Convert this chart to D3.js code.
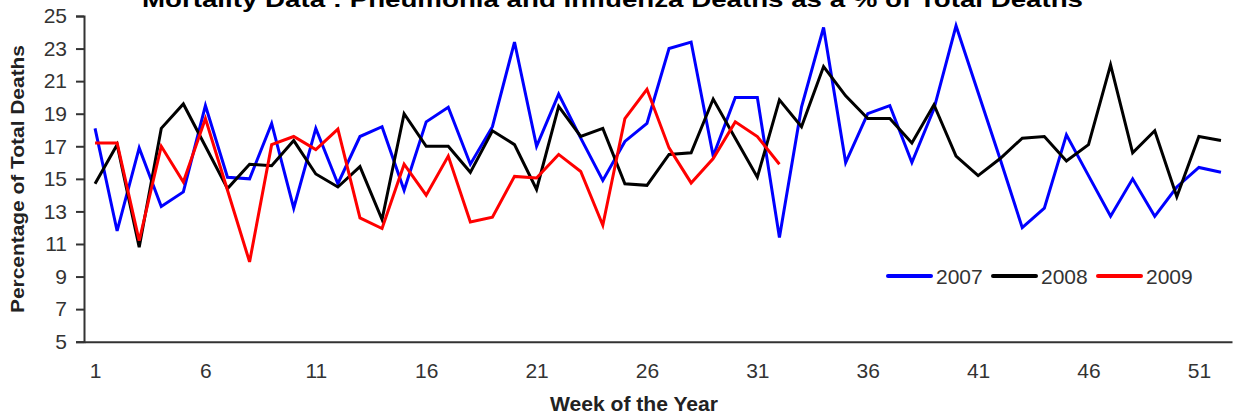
<!DOCTYPE html>
<html>
<head>
<meta charset="utf-8">
<script src="https://cdn.jsdelivr.net/npm/d3@7"></script>
<style>
  html, body { margin: 0; padding: 0; background: #fff; }
  svg { display: block; }
  text { font-family: "Liberation Sans", Arial, sans-serif; }
</style>
</head>
<body>
<svg id="chart" width="1233" height="418"></svg>
<script>
const title = "Mortality Data : Pneumonia and Influenza Deaths as a % of Total Deaths";
const xAxisTitle = "Week of the Year";
const yAxisTitle = "Percentage of Total Deaths";
const weeks = d3.range(1, 53);
const xTickLabels = [1, 6, 11, 16, 21, 26, 31, 36, 41, 46, 51];
const yTickLabels = [5, 7, 9, 11, 13, 15, 17, 19, 21, 23, 25];
const seriesNames = ["2007", "2008", "2009"];
const seriesColors = ["#0000ff", "#000000", "#ff0000"];

const values2007 = [18.1, 11.8, 16.9, 13.3, 14.2, 19.5, 15.1, 15.0, 18.4, 13.2,
  18.1, 14.7, 17.6, 18.2, 14.3, 18.5, 19.4, 15.9, 18.2, 23.4,
  17.0, 20.2, 17.5, 14.9, 17.3, 18.4, 23.0, 23.4, 16.4, 20.0,
  20.0, 11.4, 19.4, 24.3, 16.0, 19.0, 19.5, 16.0, 19.3, 24.4,
  20.3, 16.2, 12.0, 13.2, 17.7, 15.2, 12.7, 15.0, 12.7, 14.5,
  15.7, 15.4];
const values2008 = [14.7, 17.1, 10.8, 18.1, 19.6, 17.0, 14.4, 15.9, 15.8, 17.35,
  15.3, 14.5, 15.75, 12.5, 19.0, 17.0, 17.0, 15.4, 17.95, 17.1,
  14.35, 19.45, 17.6, 18.1, 14.7, 14.6, 16.5, 16.6, 19.9, 17.5,
  15.1, 19.85, 18.2, 21.9, 20.1, 18.7, 18.7, 17.2, 19.55, 16.4,
  15.2, 16.25, 17.5, 17.6, 16.1, 17.1, 22.0, 16.6, 17.95, 13.9,
  17.6, 17.35];
const values2009 = [17.2, 17.2, 11.2, 17.0, 14.8, 18.7, 14.3, 9.9, 17.1, 17.6,
  16.8, 18.05, 12.6, 11.95, 15.9, 14.0, 16.4, 12.35, 12.65, 15.15,
  15.05, 16.5, 15.45, 12.15, 18.7, 20.5, 16.9, 14.75, 16.25, 18.5,
  17.6, 15.9];

const allSeries = [values2007, values2008, values2009];

const svg = d3.select("#chart");
const plotLeft = 84, plotRight = 1232, plotTop = 16, plotBottom = 341.7;

const x = d3.scaleLinear().domain([0.5, 52.5]).range([plotLeft, plotRight]);
const y = d3.scaleLinear().domain([5, 25]).range([plotBottom, plotTop]);

// Title (clipped at the top of the view as in the reference)
svg.append("text")
  .attr("x", 142).attr("y", 7)
  .attr("textLength", 941).attr("lengthAdjust", "spacingAndGlyphs")
  .attr("font-size", 22).attr("font-weight", "bold").attr("fill", "#000")
  .text(title);

// Y axis
const yAxis = svg.append("g")
  .attr("transform", `translate(${plotLeft},0)`)
  .call(d3.axisLeft(y).tickValues(yTickLabels).tickSize(8).tickPadding(9).tickFormat(d3.format("d")));
yAxis.select(".domain").attr("stroke", "#333").attr("stroke-width", 2);
yAxis.selectAll(".tick line").attr("stroke", "#333").attr("stroke-width", 2);
yAxis.selectAll(".tick text").attr("font-size", 21).attr("fill", "#333")
  .attr("font-family", "'Liberation Sans', Arial, sans-serif");

// X axis
const xAxis = svg.append("g")
  .attr("transform", `translate(0,${plotBottom})`)
  .call(d3.axisBottom(x).tickValues(xTickLabels).tickSize(0).tickPadding(21).tickFormat(d3.format("d")));
xAxis.select(".domain").attr("stroke", "#333").attr("stroke-width", 2);
xAxis.selectAll(".tick text").attr("font-size", 21).attr("fill", "#333")
  .attr("font-family", "'Liberation Sans', Arial, sans-serif");

// Axis titles
svg.append("text")
  .attr("x", 634).attr("y", 411)
  .attr("text-anchor", "middle")
  .attr("font-size", 20).attr("font-weight", "bold").attr("fill", "#222")
  .attr("textLength", 168).attr("lengthAdjust", "spacingAndGlyphs")
  .text(xAxisTitle);

svg.append("text")
  .attr("transform", "translate(24,179) rotate(-90)")
  .attr("text-anchor", "middle")
  .attr("font-size", 19).attr("font-weight", "bold").attr("fill", "#222")
  .attr("textLength", 268).attr("lengthAdjust", "spacingAndGlyphs")
  .text(yAxisTitle);

// Lines
const line = d3.line()
  .x((d, i) => x(weeks[i]))
  .y(d => y(d));

allSeries.forEach((vals, i) => {
  svg.append("path")
    .datum(vals)
    .attr("fill", "none")
    .attr("stroke", seriesColors[i])
    .attr("stroke-width", 3)
    .attr("stroke-linejoin", "miter")
    .attr("d", line);
});

// Legend
const legendX = [888, 993, 1098];
const legendY = 276;
seriesNames.forEach((name, i) => {
  svg.append("line")
    .attr("x1", legendX[i]).attr("x2", legendX[i] + 43)
    .attr("y1", legendY).attr("y2", legendY)
    .attr("stroke", seriesColors[i]).attr("stroke-width", 4)
    .attr("stroke-linecap", "round");
  svg.append("text")
    .attr("x", legendX[i] + 48).attr("y", legendY + 7.5)
    .attr("font-size", 21).attr("fill", "#333")
    .text(name);
});
</script>
</body>
</html>
